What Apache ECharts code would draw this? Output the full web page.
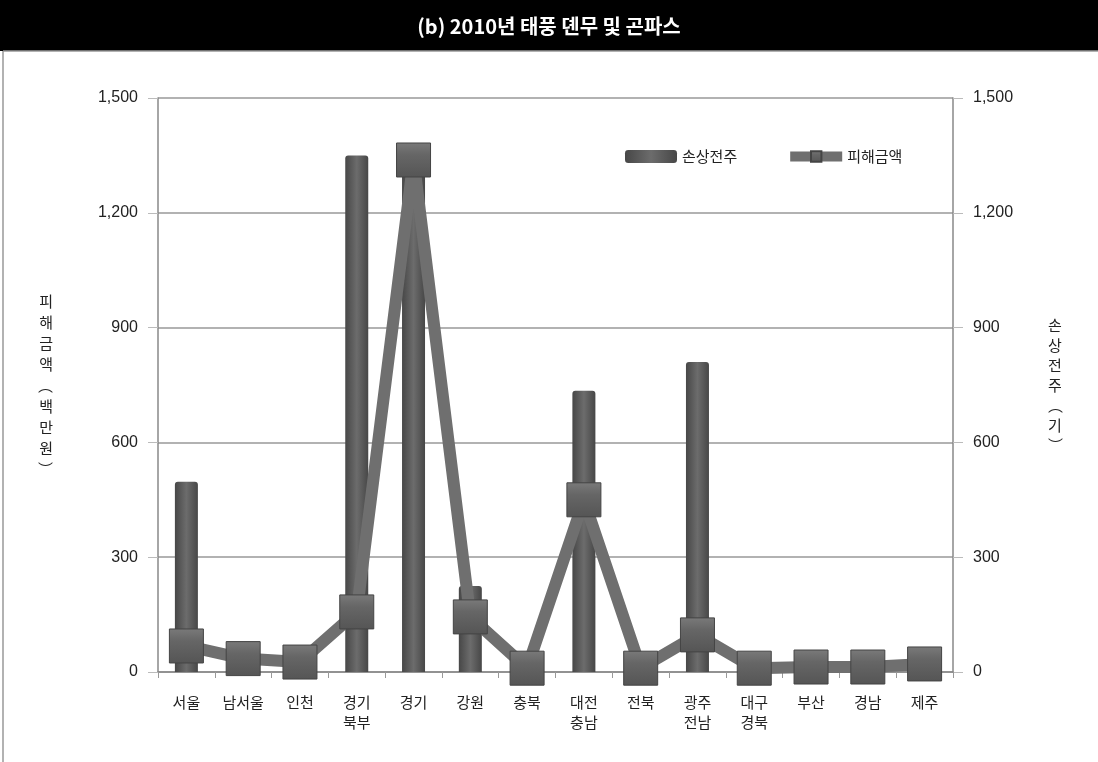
<!DOCTYPE html>
<html>
<head>
<meta charset="utf-8">
<script src="https://cdn.jsdelivr.net/npm/echarts@6/dist/echarts.min.js"></script>
<style>
  html, body { margin: 0; padding: 0; background: #fff; }
  #chart { width: 1098px; height: 762px; }
</style>
</head>
<body>
<div id="chart"></div>
<script>
// categories (two-line labels split with \n)
const regions = ['서울', '남서울', '인천', '경기\n북부', '경기', '강원', '충북', '대전\n충남', '전북', '광주\n전남', '대구\n경북', '부산', '경남', '제주'];
// 손상전주 (기) - right axis, bars
const damagedPoles = [497, 8, 5, 1350, 1365, 225, 5, 735, 5, 810, 5, 5, 5, 5];
// 피해금액 (백만원) - left axis, line
const damageAmount = [68, 35, 26, 157, 1338, 144, 10, 450, 10, 97, 10, 13, 13, 21];
const axisTicks = [0, 300, 600, 900, 1200, 1500];

const font = '"Noto Sans CJK KR", "Noto Sans", sans-serif';
const numFont = '"Liberation Sans", "Noto Sans CJK KR", sans-serif';
const chart = echarts.init(document.getElementById('chart'));

const barColor = new echarts.graphic.LinearGradient(0, 0, 1, 0, [
  { offset: 0, color: '#474747' },
  { offset: 0.5, color: '#6c6c6c' },
  { offset: 1, color: '#474747' },
]);
const markerColor = new echarts.graphic.LinearGradient(0, 0, 0, 1, [
  { offset: 0, color: '#7a7a7a' },
  { offset: 0.35, color: '#666' },
  { offset: 1, color: '#555' },
]);

const yAxisBase = {
  type: 'value',
  min: axisTicks[0],
  max: axisTicks[axisTicks.length - 1],
  interval: 300,
  axisLine: { show: true, lineStyle: { color: '#888', width: 1.5 } },
  axisTick: { show: true, length: 10, lineStyle: { color: '#bbb' } },
  axisLabel: {
    color: '#222',
    fontSize: 16,
    fontFamily: numFont,
    margin: 20,
    formatter: (v) => v.toLocaleString('en-US'),
  },
  nameLocation: 'middle',
  nameRotate: 0,
};

chart.setOption({
  animation: false,
  title: {
    text: '(b) 2010년 태풍 뎬무 및 곤파스',
    left: 'center',
    top: 11,
    textStyle: { color: '#fff', fontSize: 20, fontWeight: 'bold', fontFamily: font },
  },
  graphic: [
    { type: 'rect', z: -1, shape: { x: 0, y: 0, width: 1098, height: 51 }, style: { fill: '#000' } },
    { type: 'line', shape: { x1: 3, y1: 51, x2: 1098, y2: 51 }, style: { stroke: '#999', lineWidth: 1.5 } },
    { type: 'line', shape: { x1: 3, y1: 51, x2: 3, y2: 762 }, style: { stroke: '#999', lineWidth: 1.5 } },
  ],
  legend: {
    data: ['손상전주', { name: '피해금액', lineStyle: { width: 10 } }],
    left: 620,
    top: 144,
    itemWidth: 52,
    itemHeight: 13,
    itemGap: 48,
    textStyle: { color: '#222', fontSize: 15, fontFamily: font },
  },
  grid: { left: 158, right: 145, top: 98, bottom: 90 },
  xAxis: {
    type: 'category',
    data: regions,
    axisLine: { lineStyle: { color: '#888', width: 1.5 } },
    axisTick: { show: true, length: 6, lineStyle: { color: '#999' } },
    axisLabel: { color: '#222', fontSize: 15, fontFamily: font, margin: 20, lineHeight: 20 },
  },
  yAxis: [
    Object.assign({}, yAxisBase, {
      position: 'left',
      name: '피\n해\n금\n액\n︵\n백\n만\n원\n︶',
      nameGap: 105,
      nameTextStyle: { color: '#222', fontSize: 15, fontFamily: font, lineHeight: 21, padding: [60, 0, 0, 0] },
      splitLine: { show: true, lineStyle: { color: '#999', width: 1.5 } },
    }),
    Object.assign({}, yAxisBase, {
      position: 'right',
      name: '손\n상\n전\n주\n︵\n기\n︶',
      nameGap: 95,
      nameTextStyle: { color: '#222', fontSize: 15, fontFamily: font, lineHeight: 20, padding: [40, 0, 0, 0] },
      splitLine: { show: false },
    }),
  ],
  series: [
    {
      name: '손상전주',
      type: 'bar',
      yAxisIndex: 1,
      data: damagedPoles,
      barWidth: 23,
      itemStyle: { color: barColor, borderRadius: [3, 3, 0, 0] },
    },
    {
      name: '피해금액',
      type: 'line',
      yAxisIndex: 0,
      data: damageAmount,
      symbol: 'rect',
      symbolSize: 34,
      lineStyle: { color: '#6f6f6f', width: 12 },
      itemStyle: { color: markerColor, borderColor: '#444', borderWidth: 1 },
      z: 3,
    },
  ],
});
</script>
</body>
</html>
